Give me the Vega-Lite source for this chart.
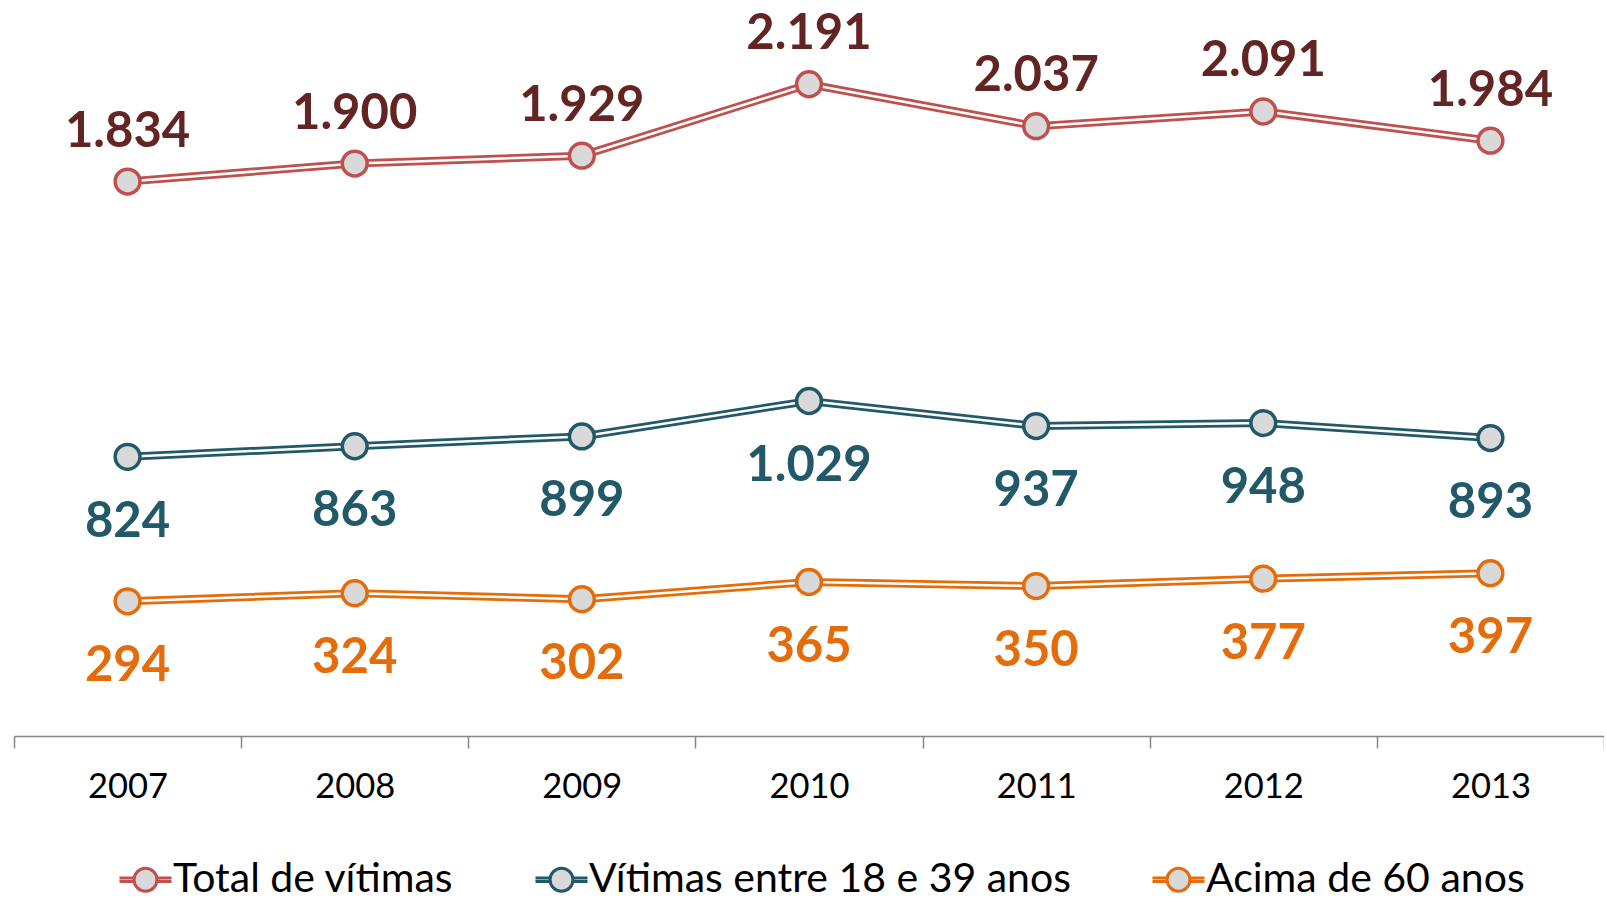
{
  "$schema": "https://vega.github.io/schema/vega-lite/v6.json",
  "width": 1590,
  "height": 736,
  "autosize": {"type": "none"},
  "padding": {"left": 14, "top": 0, "right": 0, "bottom": 166},
  "background": "white",
  "config": {
    "view": {"stroke": null},
    "font": "Lato",
    "locale": {"number": {"decimal": ",", "thousands": ".", "grouping": [3], "currency": ["R$", ""]}}
  },
  "data": {
    "values": [
      {"year": "2007", "series": "Total de vítimas", "value": 1834},
      {"year": "2008", "series": "Total de vítimas", "value": 1900},
      {"year": "2009", "series": "Total de vítimas", "value": 1929},
      {"year": "2010", "series": "Total de vítimas", "value": 2191},
      {"year": "2011", "series": "Total de vítimas", "value": 2037},
      {"year": "2012", "series": "Total de vítimas", "value": 2091},
      {"year": "2013", "series": "Total de vítimas", "value": 1984},
      {"year": "2007", "series": "Vítimas entre 18 e 39 anos", "value": 824},
      {"year": "2008", "series": "Vítimas entre 18 e 39 anos", "value": 863},
      {"year": "2009", "series": "Vítimas entre 18 e 39 anos", "value": 899},
      {"year": "2010", "series": "Vítimas entre 18 e 39 anos", "value": 1029},
      {"year": "2011", "series": "Vítimas entre 18 e 39 anos", "value": 937},
      {"year": "2012", "series": "Vítimas entre 18 e 39 anos", "value": 948},
      {"year": "2013", "series": "Vítimas entre 18 e 39 anos", "value": 893},
      {"year": "2007", "series": "Acima de 60 anos", "value": 294},
      {"year": "2008", "series": "Acima de 60 anos", "value": 324},
      {"year": "2009", "series": "Acima de 60 anos", "value": 302},
      {"year": "2010", "series": "Acima de 60 anos", "value": 365},
      {"year": "2011", "series": "Acima de 60 anos", "value": 350},
      {"year": "2012", "series": "Acima de 60 anos", "value": 377},
      {"year": "2013", "series": "Acima de 60 anos", "value": 397}
    ]
  },
  "encoding": {
    "x": {
      "field": "year",
      "type": "ordinal",
      "scale": {"type": "band", "paddingInner": 0, "paddingOuter": 0},
      "axis": {
        "title": null,
        "labelAngle": 0,
        "tickBand": "extent",
        "tickSize": 12,
        "tickColor": "#868686",
        "tickWidth": 1.5,
        "domainColor": "#868686",
        "domainWidth": 1.5,
        "labelFont": "Lato",
        "labelFontSize": 34.5,
        "labelColor": "#000000",
        "labelBaseline": "middle",
        "labelPadding": 39
      }
    },
    "y": {
      "field": "value",
      "type": "quantitative",
      "scale": {"domain": [-200, 2500], "nice": false, "zero": false},
      "axis": null
    }
  },
  "layer": [
    {
      "mark": {"type": "line", "strokeWidth": 8},
      "encoding": {
        "stroke": {
          "field": "series",
          "type": "nominal",
          "scale": {
            "domain": ["Total de vítimas", "Vítimas entre 18 e 39 anos", "Acima de 60 anos"],
            "range": ["#c0504d", "#215968", "#e46c0a"]
          },
          "legend": {
            "title": null,
            "orient": "none",
            "direction": "horizontal",
            "legendX": 104,
            "legendY": 852,
            "symbolType": "M-1,-0.07H-0.44M-1,0.07H-0.44M0.44,-0.07H1M0.44,0.07H1M-0.44,0A0.44,0.44 0 1,1 0.44,0A0.44,0.44 0 1,1 -0.44,0Z",
            "symbolSize": 2704,
            "symbolStrokeWidth": 3,
            "symbolFillColor": "#d9d9d9",
            "labelFont": "Lato",
            "labelFontSize": 41,
            "labelColor": "#000000",
            "labelOffset": 0,
            "columnPadding": 75,
            "labelLimit": 700,
            "encode": {"symbols": {"update": {"fill": {"value": "#d9d9d9"}, "opacity": {"value": 1}}}}
          }
        }
      }
    },
    {
      "mark": {"type": "line", "strokeWidth": 2.5, "stroke": "white"},
      "encoding": {"detail": {"field": "series", "type": "nominal"}}
    },
    {
      "mark": {"type": "point", "shape": "circle", "filled": false, "fill": "#d9d9d9", "fillOpacity": 1, "opacity": 1, "size": 615, "strokeWidth": 3.5},
      "encoding": {
        "stroke": {"field": "series", "type": "nominal"}
      }
    },
    {
      "transform": [{"filter": "datum.series === 'Total de vítimas'"}],
      "mark": {"type": "text", "dy": -50, "fontSize": 49, "fontWeight": "bold", "font": "Lato", "baseline": "middle", "fill": "#632523"},
      "encoding": {"text": {"field": "value", "type": "quantitative", "format": ",d"}}
    },
    {
      "transform": [{"filter": "datum.series === 'Vítimas entre 18 e 39 anos'"}],
      "mark": {"type": "text", "dy": 65, "fontSize": 49, "fontWeight": "bold", "font": "Lato", "baseline": "middle", "fill": "#215968"},
      "encoding": {"text": {"field": "value", "type": "quantitative", "format": ",d"}}
    },
    {
      "transform": [{"filter": "datum.series === 'Acima de 60 anos'"}],
      "mark": {"type": "text", "dy": 65, "fontSize": 49, "fontWeight": "bold", "font": "Lato", "baseline": "middle", "fill": "#e46c0a"},
      "encoding": {"text": {"field": "value", "type": "quantitative", "format": ",d"}}
    }
  ]
}
